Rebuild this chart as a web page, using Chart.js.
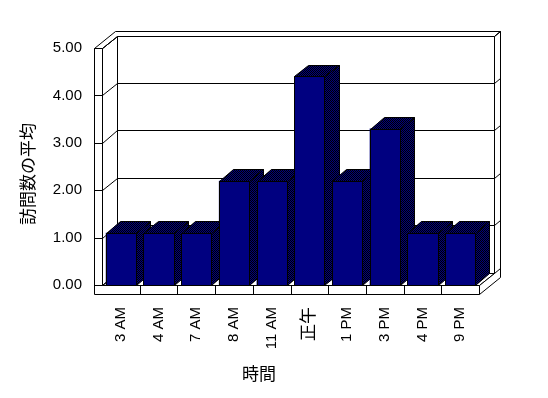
<!DOCTYPE html>
<html><head><meta charset="utf-8">
<script src="https://cdn.jsdelivr.net/npm/chart.js@4/dist/chart.umd.min.js"></script>
<style>html,body{margin:0;padding:0;background:#fff;}#wrap{width:548px;height:398px;}</style>
</head><body><div id="wrap"><canvas id="c" width="548" height="398"></canvas></div>
<script>
const categories = ['3 AM','4 AM','7 AM','8 AM','11 AM','正午','1 PM','3 PM','4 PM','9 PM'];
const visitAverages = [1.1,1.1,1.1,2.2,2.2,4.4,2.2,3.3,1.1,1.1];
const valueMin = 0, valueMax = 5, valueStep = 1;
const yTitle = '訪問数の平均';
const xTitle = '時間';

const FONT = '"Liberation Sans", Arial, "Noto Sans CJK JP", sans-serif';
const CJK = '"Noto Sans CJK JP", sans-serif';
const NAVY = '#000080';
const DEPTH = {dx: 15, dy: -12.5};
const BACK_T = 0.4, WALL_W = 8, FLOOR_H = 9, BAR_DEPTH = 0.94;

function P(x, y, z) { return [x + DEPTH.dx * z, y + DEPTH.dy * z]; }
function snap(v) { return Math.round(v) + 0.5; }
function path(ctx, pts) {
  ctx.beginPath();
  pts.forEach((p, i) => { const X = snap(p[0]), Y = snap(p[1]); i ? ctx.lineTo(X, Y) : ctx.moveTo(X, Y); });
  ctx.closePath();
}
function poly(ctx, pts, fill) {
  path(ctx, pts);
  if (fill) { ctx.fillStyle = fill; ctx.fill(); }
  ctx.stroke();
}
function ditherPoly(ctx, pts) {
  path(ctx, pts);
  ctx.fillStyle = NAVY; ctx.fill();
  ctx.save();
  ctx.clip();
  ctx.fillStyle = '#000';
  const xsA = pts.map(p => p[0]), ysA = pts.map(p => p[1]);
  const x0 = Math.floor(Math.min(...xsA)) - 2, x1 = Math.ceil(Math.max(...xsA)) + 1;
  const y0 = Math.floor(Math.min(...ysA)), y1 = Math.ceil(Math.max(...ysA)) + 1;
  for (let y = y0; y <= y1; y++) {
    const start = ((x0 + y) & 1) === 0 ? x0 : x0 + 1;
    for (let x = start; x <= x1; x += 2) ctx.fillRect(x, y, 1, 1);
  }
  ctx.restore();
  path(ctx, pts);
  ctx.stroke();
}
function seg(ctx, a, b) {
  ctx.beginPath(); ctx.moveTo(snap(a[0]), snap(a[1])); ctx.lineTo(snap(b[0]), snap(b[1])); ctx.stroke();
}

const frame3d = {
  id: 'frame3d',
  beforeDatasetsDraw(chart) {
    const {ctx, chartArea: {left: L, right: R, top: T, bottom: B}} = chart;
    const ys = chart.scales.y, xs = chart.scales.x;
    const Lo = L - WALL_W, Bo = B + FLOOR_H, Z2 = 1 + BACK_T;
    ctx.save(); ctx.lineWidth = 1; ctx.strokeStyle = '#000';
    poly(ctx, [P(L,T,1), P(R,T,1), P(R,B,1), P(L,B,1)], '#fff');
    poly(ctx, [P(L,T,0), P(L,T,1), P(L,B,1), P(L,B,0)], '#fff');
    poly(ctx, [P(L,B,0), P(R,B,0), P(R,B,1), P(L,B,1)], '#fff');
    poly(ctx, [P(Lo,T,0), P(L,T,0), P(L,T,1), P(R,T,1), P(R,T,Z2), P(Lo,T,Z2)], '#fff');
    poly(ctx, [P(R,T,1), P(R,T,Z2), P(R,Bo,Z2), P(R,Bo,0), P(R,B,0), P(R,B,1)], '#fff');
    poly(ctx, [[Lo,T], [L,T], [L,B], [R,B], [R,Bo], [Lo,Bo]], '#fff');
    ys.ticks.forEach(t => {
      const y = ys.getPixelForValue(t.value);
      seg(ctx, P(L,y,1), P(R,y,1));
      seg(ctx, P(L,y,0), P(L,y,1));
      seg(ctx, [Lo,y], [L,y]);
      seg(ctx, P(R,y,1), P(R,y,Z2));
    });
    for (let i = 1; i < categories.length; i++) {
      const x = (xs.getPixelForValue(i - 1) + xs.getPixelForValue(i)) / 2;
      seg(ctx, [x,B], [x,Bo]);
    }
    ctx.restore();
  }
};

const bars3d = {
  id: 'bars3d',
  afterDatasetsDraw(chart) {
    const ctx = chart.ctx;
    const meta = chart.getDatasetMeta(0);
    const dx = DEPTH.dx * BAR_DEPTH, dy = DEPTH.dy * BAR_DEPTH;
    ctx.save(); ctx.lineWidth = 1; ctx.strokeStyle = '#000';
    meta.data.forEach(el => {
      const {x, y, base, width} = el.getProps(['x','y','base','width'], true);
      const xl = x - width / 2, xr = x + width / 2;
      ditherPoly(ctx, [[xr,y], [xr+dx,y+dy], [xr+dx,base+dy], [xr,base]]);
      ditherPoly(ctx, [[xl,y], [xl+dx,y+dy], [xr+dx,y+dy], [xr,y]]);
      poly(ctx, [[xl,y], [xr,y], [xr,base], [xl,base]], NAVY);
    });
    ctx.restore();
  }
};

const axisTitles = {
  id: 'axisTitles',
  afterDraw(chart) {
    const {ctx, chartArea: {top: T, bottom: B}} = chart;
    ctx.save();
    ctx.fillStyle = '#000';
    ctx.font = '17px ' + CJK;
    ctx.textAlign = 'center'; ctx.textBaseline = 'middle';
    ctx.translate(28, (T + B) / 2 + 7.5);
    ctx.rotate(-Math.PI / 2);
    ctx.fillText(yTitle, 0, 0);
    ctx.restore();
    ctx.save();
    ctx.fillStyle = '#000';
    ctx.font = '17px ' + CJK;
    ctx.textAlign = 'center'; ctx.textBaseline = 'middle';
    ctx.fillText(xTitle, 259, 374);
    ctx.restore();
  }
};

new Chart(document.getElementById('c'), {
  type: 'bar',
  data: {
    labels: categories,
    datasets: [{
      data: visitAverages,
      backgroundColor: NAVY,
      borderWidth: 0,
      categoryPercentage: 1.0,
      barPercentage: 0.8
    }]
  },
  options: {
    responsive: false,
    animation: false,
    devicePixelRatio: 1,
    layout: {padding: {top: 48, right: 69, left: 0, bottom: 0}},
    plugins: {legend: {display: false}, tooltip: {enabled: false}, title: {display: false}},
    scales: {
      x: {
        grid: {display: false, drawTicks: false},
        border: {display: false},
        ticks: {
          autoSkip: false, minRotation: 90, maxRotation: 90, padding: 22, color: '#000',
          font: (c) => ({family: FONT, size: (c.tick && c.tick.label === '正午') ? 17 : 15})
        },
        afterFit: (s) => { s.height = 113; }
      },
      y: {
        min: valueMin, max: valueMax,
        grid: {display: false, drawTicks: false},
        border: {display: false},
        ticks: {stepSize: valueStep, padding: 20, color: '#000', font: {family: FONT, size: 15},
          callback: (v) => Number(v).toFixed(2)},
        afterFit: (s) => { s.width = 102; }
      }
    }
  },
  plugins: [frame3d, bars3d, axisTitles]
});
</script></body></html>
